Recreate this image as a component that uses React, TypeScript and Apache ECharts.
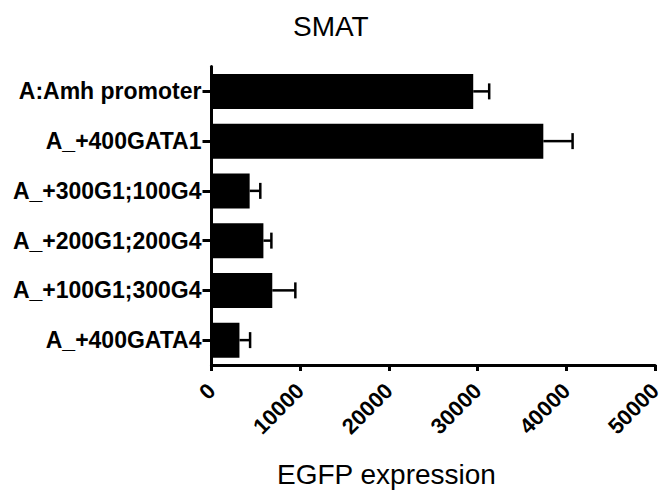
import React, { useEffect, useRef } from "react";
import * as echarts from "echarts";

const categories = [
  "A:Amh promoter",
  "A_+400GATA1",
  "A_+300G1;100G4",
  "A_+200G1;200G4",
  "A_+100G1;300G4",
  "A_+400GATA4",
];
const means = [29500, 37400, 4300, 5850, 6850, 3150];
const errors = [1800, 3300, 1200, 900, 2600, 1200];
const xTicks = { min: 0, max: 50000, interval: 10000 };

const FONT = "'Liberation Sans', Arial, sans-serif";

export default function App() {
  const ref = useRef<HTMLDivElement>(null);
  useEffect(() => {
    document.body.style.margin = "0";
    const chart = echarts.init(ref.current!, null, { renderer: "svg" });
    const errData = categories.map((_, i) => [i, means[i], errors[i]]);
    chart.setOption({
      animation: false,
      backgroundColor: "#fff",
      title: {
        text: "SMAT",
        left: 288,
        top: 7,
        textStyle: { fontFamily: FONT, fontSize: 28, fontWeight: "normal", color: "#000" },
      },
      graphic: [
        {
          type: "text",
          left: 277,
          top: 460,
          style: { text: "EGFP expression", font: `normal 28px ${FONT}`, fill: "#000" },
        },
      ],
      grid: { left: 211.5, right: 3.5, top: 66.5, bottom: 126, containLabel: false },
      xAxis: {
        type: "value",
        min: xTicks.min,
        max: xTicks.max,
        interval: xTicks.interval,
        splitLine: { show: false },
        axisLine: { show: true, lineStyle: { color: "#000", width: 3 } },
        axisTick: { show: true, length: 6, lineStyle: { color: "#000", width: 3 } },
        axisLabel: {
          rotate: 45,
          margin: 22,
          formatter: (v: number) => String(v),
          fontFamily: FONT,
          fontSize: 22,
          fontWeight: "bold",
          color: "#000",
        },
      },
      yAxis: {
        type: "category",
        data: categories,
        inverse: true,
        axisLine: { show: true, lineStyle: { color: "#000", width: 3 } },
        axisTick: { show: true, alignWithLabel: true, length: 9, lineStyle: { color: "#000", width: 3 } },
        axisLabel: {
          margin: 10,
          fontFamily: FONT,
          fontSize: 23,
          fontWeight: "bold",
          color: "#000",
        },
      },
      series: [
        {
          type: "bar",
          data: means,
          barWidth: 35,
          itemStyle: { color: "#000" },
          z: 2,
        },
        {
          type: "custom",
          data: errData,
          encode: { x: [1, 2], y: 0 },
          z: 3,
          renderItem: (params: any, api: any) => {
            const idx = api.value(0);
            const v = api.value(1);
            const e = api.value(2);
            const p0 = api.coord([v, idx]);
            const p1 = api.coord([v + e, idx]);
            const h = 8;
            const style = { stroke: "#000", lineWidth: 2.5 };
            return {
              type: "group",
              children: [
                { type: "line", shape: { x1: p0[0], y1: p0[1], x2: p1[0], y2: p1[1] }, style },
                { type: "line", shape: { x1: p1[0], y1: p1[1] - h, x2: p1[0], y2: p1[1] + h }, style },
              ],
            };
          },
        },
      ],
    });
    return () => chart.dispose();
  }, []);
  return <div ref={ref} style={{ width: 665, height: 491 }} />;
}
